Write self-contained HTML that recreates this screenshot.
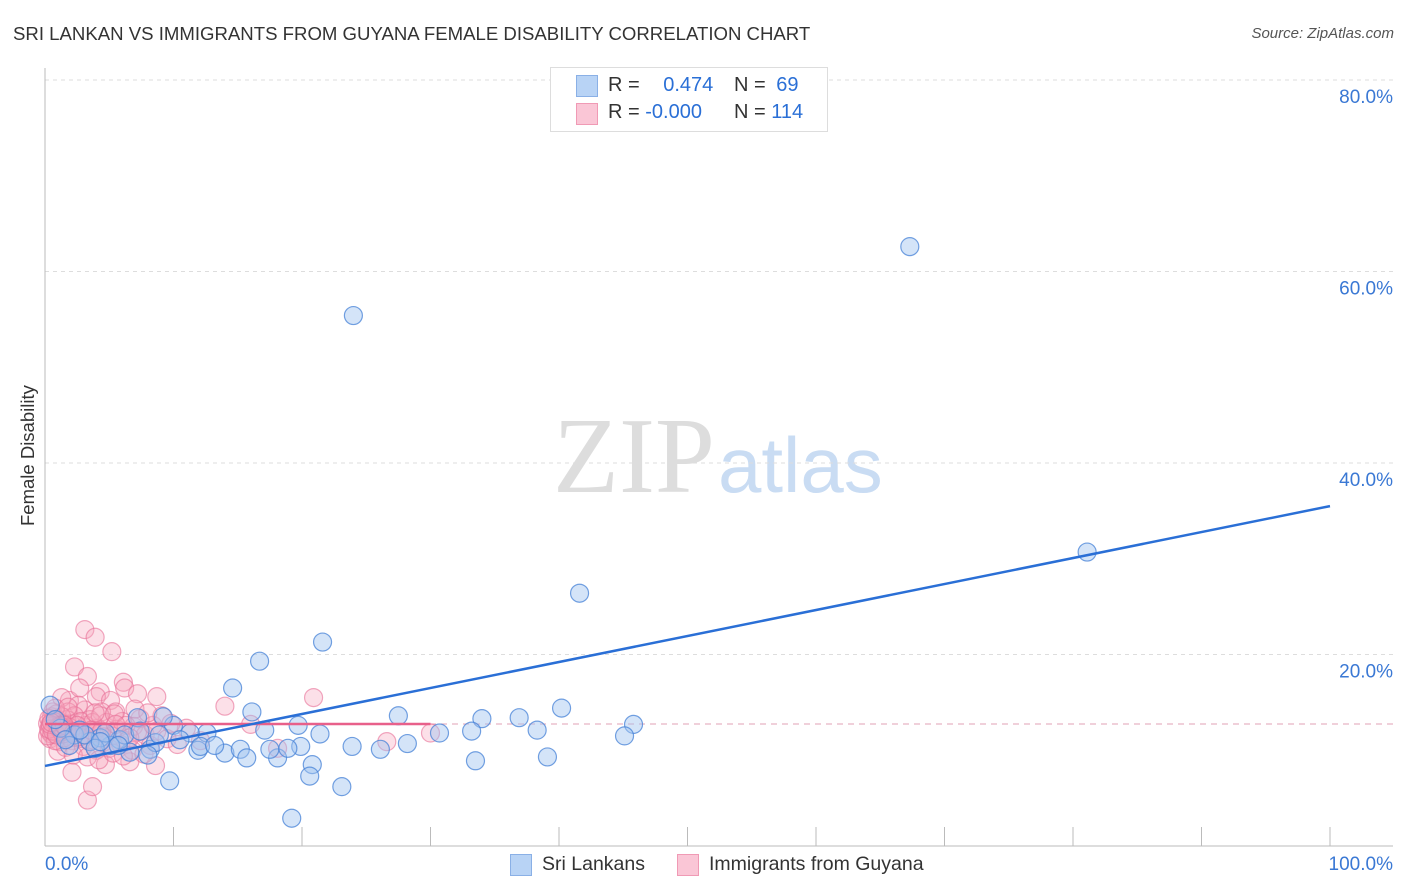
<!DOCTYPE html>
<html><head><meta charset="utf-8"><style>
body{margin:0;background:#fff;font-family:"Liberation Sans",sans-serif}
#wrap{position:relative;width:1406px;height:892px;overflow:hidden}
.t{position:absolute;white-space:nowrap}
</style></head><body>
<div id="wrap">
<div class="t" style="left:13px;top:23px;font-size:18.6px;color:#333">SRI LANKAN VS IMMIGRANTS FROM GUYANA FEMALE DISABILITY CORRELATION CHART</div>
<div class="t" style="right:12px;top:25px;font-size:15px;color:#555;font-style:italic">Source: ZipAtlas.com</div>
<div class="t" style="left:-42px;top:445px;font-size:18.5px;color:#333;transform:rotate(-90deg);width:140px;text-align:center">Female Disability</div>
<svg id="plot" width="1406" height="892" style="position:absolute;left:0;top:0">
<text x="553" y="492" font-family="Liberation Serif" font-size="108" fill="#ddd">ZIP</text>
<text x="718" y="492" font-family="Liberation Sans" font-size="78" fill="#c9dcf3">atlas</text>
</svg>
<div style="position:absolute;left:550px;top:67px;width:276px;height:63px;border:1px solid #ddd;background:#fff"></div>
<div style="position:absolute;left:576px;top:75px;width:20px;height:20px;background:#b8d3f5;border:1px solid #8ab0e6"></div>
<div style="position:absolute;left:576px;top:103px;width:20px;height:20px;background:#fac6d6;border:1px solid #f09ab5"></div>
<div class="t" style="left:608px;top:74px;font-size:20px;color:#333">R = <span style="color:#2a6fd6;margin-left:18px">0.474</span></div>
<div class="t" style="left:734px;top:74px;font-size:20px;color:#333">N = <span style="color:#2a6fd6;margin-left:5px">69</span></div>
<div class="t" style="left:608px;top:101px;font-size:20px;color:#333">R = <span style="color:#2a6fd6">-0.000</span></div>
<div class="t" style="left:734px;top:101px;font-size:20px;color:#333">N = <span style="color:#2a6fd6">114</span></div>
<div style="position:absolute;left:510px;top:854px;width:20px;height:20px;background:#b8d3f5;border:1px solid #8ab0e6"></div>
<div class="t" style="left:542px;top:853px;font-size:19.5px;color:#333">Sri Lankans</div>
<div style="position:absolute;left:677px;top:854px;width:20px;height:20px;background:#fac6d6;border:1px solid #f09ab5"></div>
<div class="t" style="left:709px;top:853px;font-size:19.5px;color:#333">Immigrants from Guyana</div>
</div>
<script>
const yTicks=[20,40,60,80];
const yTickLabels=["20.0%","40.0%","60.0%","80.0%"];
const xTicks=[10,20,30,40,50,60,70,80,90,100];
const blueX=[24.0,67.3,81.1,41.6,21.6,16.7,14.6,16.1,40.2,45.8,36.9,34.0,27.5,19.7,21.4,12.6,10.0,11.3,9.2,7.2,10.5,11.9,14.0,15.2,15.7,18.1,17.5,19.9,23.9,26.1,28.2,30.7,33.2,38.3,45.1,39.1,33.5,20.8,20.6,23.1,9.7,19.2,8.2,6.6,8.6,5.8,5.1,4.3,3.5,2.3,1.2,0.4,0.8,1.9,3.1,4.7,6.2,7.4,8.9,12.1,13.2,17.1,18.9,8.0,3.9,1.6,2.7,4.3,5.7];
const blueY=[55.4,62.6,30.7,26.4,21.3,19.3,16.5,14.0,14.4,12.7,13.4,13.3,13.6,12.6,11.7,11.8,12.6,11.8,13.5,13.4,11.1,10.0,9.7,10.1,9.2,9.2,10.1,10.4,10.4,10.1,10.7,11.8,12.0,12.1,11.5,9.3,8.9,8.5,7.3,6.2,6.8,2.9,10.1,9.8,10.8,11.1,10.5,11.3,10.9,11.6,12.3,14.7,13.2,10.5,11.6,11.8,11.6,12.0,11.6,10.4,10.5,12.1,10.2,9.5,10.2,11.1,12.1,10.9,10.5];
const pinkX=[3.1,3.9,5.2,2.3,3.3,6.1,6.2,7.2,8.7,14.0,20.9,16.0,18.1,26.6,30.0,8.6,6.6,4.7,2.1,3.3,3.7,1.9,1.3,4.3,2.7,4.0,5.1,5.5,4.4,3.1,2.6,1.8,0.5,0.7,1.0,1.2,1.5,1.8,2.0,2.3,2.6,2.9,3.2,3.5,3.8,4.1,4.5,4.8,5.2,5.6,6.0,6.4,6.9,7.4,7.8,8.2,8.7,9.5,10.3,11.0,12.1,0.3,0.4,0.6,0.9,1.1,1.4,1.7,2.1,2.4,2.8,3.0,3.4,3.7,4.0,4.3,4.6,5.0,5.4,5.9,6.3,6.8,7.2,7.7,8.4,9.1,1.0,1.6,2.2,3.3,4.2,5.3,6.1,0.2,0.3,0.5,0.6,0.8,0.9,1.2,1.3,1.5,1.9,2.5,2.7,3.6,3.9,4.4,5.5,6.6,7.0,8.0,9.8,0.4,0.7,1.1,1.4,2.0,0.2,0.8,1.8,0.3,0.6,1.0,1.3,1.6,0.4,0.9,1.2,1.7,2.2,0.5,1.5];
const pinkY=[22.6,21.8,20.3,18.7,17.7,17.1,16.5,15.9,15.6,14.6,15.5,12.7,10.2,10.9,11.8,8.4,8.8,8.5,7.7,4.8,6.2,15.2,15.5,16.1,16.5,15.6,15.2,14.0,14.0,14.2,14.7,14.0,13.5,12.5,11.8,13.0,12.2,11.5,12.8,13.6,12.0,11.2,12.6,13.2,11.8,12.3,10.8,12.9,11.5,12.2,13.0,11.0,12.5,13.3,11.6,10.5,12.0,11.2,10.6,12.3,11.0,12.0,11.2,14.0,13.8,10.9,12.8,13.2,11.0,11.9,13.0,10.4,11.0,12.9,10.0,13.6,11.4,10.2,13.8,10.6,12.6,10.0,11.9,9.6,12.6,13.6,9.9,10.3,9.5,9.3,9.0,9.7,9.4,12.8,13.3,11.7,12.3,11.0,12.9,12.1,13.5,11.3,12.4,12.6,11.4,12.1,13.9,12.0,12.7,11.3,14.3,13.9,12.8,12.5,13.0,12.6,11.7,12.0,11.5,14.4,14.5,12.2,12.0,12.4,11.9,12.3,12.7,11.6,12.5,12.1,11.8,12.9,12.6];
const blueTrend=[8.36,35.5];
const pinkMean=12.74, pinkMaxX=30;
const X=v=>45+v*12.85, Y=v=>846-v*9.575;
const svg=document.getElementById('plot'),NS='http://www.w3.org/2000/svg';
function mk(tag,a){const e=document.createElementNS(NS,tag);for(const k in a)e.setAttribute(k,a[k]);svg.appendChild(e);return e;}
yTicks.forEach((t,i)=>{
 const g=mk('line',{x1:45,x2:1393,y1:Y(t),y2:Y(t),stroke:'#ddd','stroke-dasharray':'4,4'});
 
 
 const l=mk('text',{x:1393,y:Y(t)+23,'text-anchor':'end','font-size':19,fill:'#3a78d4','font-family':'Liberation Sans'});
 l.textContent=yTickLabels[i];
 
 
});
const ax=mk('line',{x1:45,x2:45,y1:68,y2:846,stroke:'#bbb'});


const bx=mk('line',{x1:45,x2:1393,y1:846,y2:846,stroke:'#bbb'});


xTicks.forEach(t=>{
 const k=mk('line',{x1:X(t),x2:X(t),y1:827,y2:846,stroke:'#bbb'});
 
 
});
const x0=mk('text',{x:45,y:870,'font-size':19,fill:'#3a78d4','font-family':'Liberation Sans'});x0.textContent='0.0%';


const x1=mk('text',{x:1393,y:870,'text-anchor':'end','font-size':19,fill:'#3a78d4','font-family':'Liberation Sans'});x1.textContent='100.0%';


const ml=mk('line',{x1:45,x2:1393,y1:Y(pinkMean),y2:Y(pinkMean),stroke:'#e0a0b4','stroke-dasharray':'6,5'});


pinkX.forEach((v,i)=>{
 const c=mk('circle',{cx:X(v),cy:Y(pinkY[i]),r:9,fill:'rgba(245,165,190,0.35)',stroke:'rgba(232,110,150,0.6)','stroke-width':1.2});
 
 
});
blueX.forEach((v,i)=>{
 const c=mk('circle',{cx:X(v),cy:Y(blueY[i]),r:9,fill:'rgba(160,196,240,0.45)',stroke:'rgba(70,130,215,0.75)','stroke-width':1.2});
 
 
});
const pl=mk('line',{x1:X(0),x2:X(pinkMaxX),y1:Y(pinkMean),y2:Y(pinkMean),stroke:'#e8608a','stroke-width':2.5});


const bl=mk('line',{x1:X(0),x2:X(100),y1:Y(blueTrend[0]),y2:Y(blueTrend[1]),stroke:'#2a6fd6','stroke-width':2.5});


</script>
</body></html>
